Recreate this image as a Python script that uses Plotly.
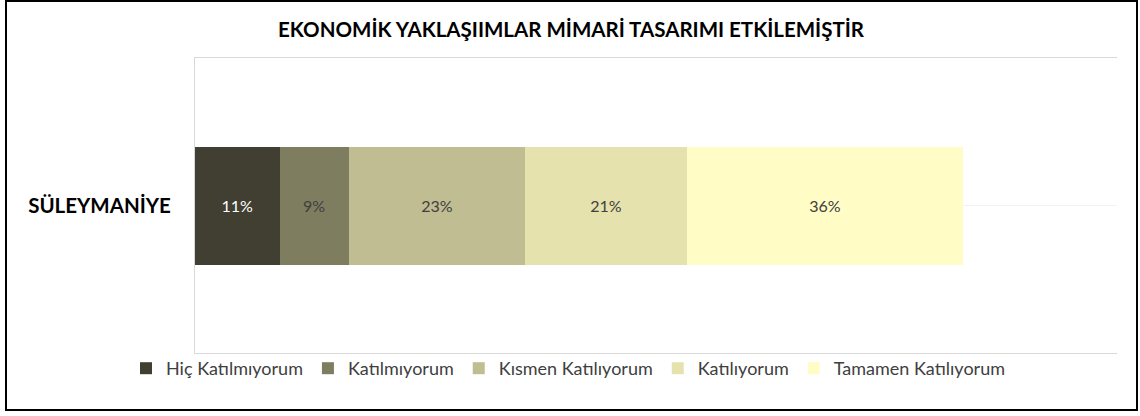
import plotly.graph_objects as go

categories = ["SÜLEYMANİYE"]
series_names = ["Hiç Katılmıyorum", "Katılmıyorum", "Kısmen Katılıyorum", "Katılıyorum", "Tamamen Katılıyorum"]
series_values = [[0.11], [0.09], [0.23], [0.21], [0.36]]
colors = ["#403F31", "#7E7D60", "#BFBD91", "#E5E2AD", "#FFFCC5"]
label_colors = ["#FFFFFF", "#404040", "#404040", "#404040", "#404040"]
title_text = "EKONOMİK YAKLAŞIIMLAR MİMARİ TASARIMI ETKİLEMİŞTİR"

W, H = 1140, 416
ml, mr, mt, mb = 195, 23, 58, 63
pw, ph = W - ml - mr, H - mt - mb

fig = go.Figure()
for name, vals, c, lc in zip(series_names, series_values, colors, label_colors):
    fig.add_trace(go.Bar(
        name=name, y=categories, x=vals, orientation="h",
        marker=dict(color=c, line=dict(width=0)),
        texttemplate="%{x:.0%}", textposition="inside", insidetextanchor="middle",
        textfont=dict(color=lc, size=16, family="Lato"),
        hoverinfo="skip",
    ))

def px_x(p):
    return (p - ml) / pw

def px_y(p):
    return 1 - (p - mt) / ph

fig.update_layout(
    width=W, height=H,
    margin=dict(l=ml, r=mr, t=mt, b=mb, autoexpand=False),
    barmode="stack", bargap=0.6,
    paper_bgcolor="white", plot_bgcolor="white",
    font=dict(family="Lato", color="#404040"),
    title=dict(text=f"<b>{title_text}</b>", x=571 / W, xref="container", xanchor="center",
               y=1 - 30 / H, yref="container", yanchor="middle",
               font=dict(size=20.5, color="#000000", family="Lato")),
    xaxis=dict(range=[0, 1.2], showticklabels=False, showgrid=False, zeroline=False,
               showline=True, mirror=True, linecolor="#D9D9D9", linewidth=1, fixedrange=True),
    yaxis=dict(showgrid=True, gridcolor="#F2F2F2", showline=True, linecolor="#D9D9D9",
               linewidth=1, ticks="", ticklabelstandoff=19, fixedrange=True,
               tickfont=dict(size=20.5, color="#000000", family="Lato", weight="bold")),
    legend=dict(orientation="h", xref="container", x=568 / W, xanchor="center",
                yref="container", y=1 - 350 / H, yanchor="top", bgcolor="rgba(0,0,0,0)",
                font=dict(size=18, color="#404040", family="Lato"),
                itemclick=False, itemdoubleclick=False, traceorder="normal"),
    showlegend=True,
    shapes=[dict(type="rect", xref="paper", yref="paper",
                 x0=px_x(6), x1=px_x(1137), y0=px_y(1), y1=px_y(410),
                 line=dict(color="#000000", width=2), fillcolor="rgba(0,0,0,0)", layer="above")],
)

fig.write_html("out.html", config={"displayModeBar": False},
               post_script="document.body.style.margin='0';document.body.style.overflow='hidden';")
